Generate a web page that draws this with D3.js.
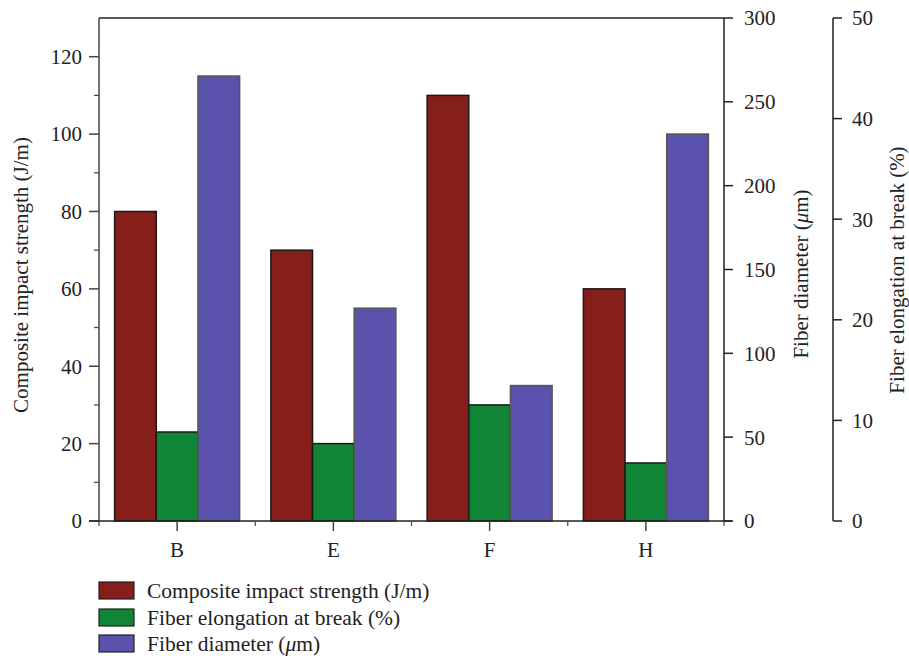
<!DOCTYPE html>
<html>
<head>
<meta charset="utf-8">
<script src="https://cdn.jsdelivr.net/npm/d3@7"></script>
<style>
  body { margin: 0; background: #fff; }
  svg { display: block; }
  text { font-family: "Liberation Serif", "DejaVu Serif", serif; fill: #222; }
</style>
</head>
<body>
<svg id="chart" width="909" height="656"></svg>
<script>
// Fiber samples and measured properties (plotted on the impact-strength scale)
const categories = ["B", "E", "F", "H"];
const seriesNames = ["Composite impact strength (J/m)", "Fiber elongation at break (%)", "Fiber diameter (μm)"];
const impactStrength = [80, 70, 110, 60];
const elongation = [23, 20, 30, 15];
const diameter = [115, 55, 35, 100];
const leftTicks = [0, 20, 40, 60, 80, 100, 120];
const diameterTicks = [0, 50, 100, 150, 200, 250, 300];
const elongationTicks = [0, 10, 20, 30, 40, 50];

const colors = ["#861e19", "#0f8535", "#5a52ad"];
const strokes = ["#1a1a1a", "#1a1a1a", "#555"];
const seriesValues = [impactStrength, elongation, diameter];

const FS = 21;
const svg = d3.select("#chart");
const plotL = 99, plotR = 724, plotT = 18, plotB = 521;

const x = d3.scaleBand().domain(categories).range([plotL, plotR]);
// each group of three bars fills the middle 80% of its band
const xInner = d3.scaleBand().domain(d3.range(3))
  .range([x.bandwidth() * 0.1, x.bandwidth() * 0.9]);

const y = d3.scaleLinear().domain([0, 130]).range([plotB, plotT]);
const yDiam = d3.scaleLinear().domain([0, 300]).range([plotB, plotT]);
const yElong = d3.scaleLinear().domain([0, 50]).range([plotB, plotT]);

// top frame line
svg.append("line").attr("x1", plotL).attr("x2", plotR).attr("y1", plotT).attr("y2", plotT)
  .attr("stroke", "#222").attr("stroke-width", 1.5);

// bars
const groups = svg.append("g").selectAll("g").data(categories).join("g")
  .attr("transform", d => `translate(${x(d)},0)`);
groups.selectAll("rect")
  .data((d, i) => seriesValues.map((vals, s) => ({ s, v: vals[i] })))
  .join("rect")
  .attr("x", d => xInner(d.s))
  .attr("width", xInner.bandwidth())
  .attr("y", d => y(d.v))
  .attr("height", d => y(0) - y(d.v))
  .attr("fill", d => colors[d.s])
  .attr("stroke", d => strokes[d.s])
  .attr("stroke-width", 1.5);

// left axis
const minorLeft = d3.range(10, 130, 20);
const gl = svg.append("g").attr("transform", `translate(${plotL},0)`);
gl.append("line").attr("y1", plotT).attr("y2", plotB).attr("stroke", "#444").attr("stroke-width", 1.5);
gl.selectAll("line.maj").data(leftTicks).join("line").attr("class", "maj")
  .attr("x1", -10).attr("x2", 0).attr("y1", d => y(d)).attr("y2", d => y(d)).attr("stroke", "#444").attr("stroke-width", 1.5);
gl.selectAll("line.min").data(minorLeft).join("line").attr("class", "min")
  .attr("x1", -5).attr("x2", 0).attr("y1", d => y(d)).attr("y2", d => y(d)).attr("stroke", "#444").attr("stroke-width", 1.2);
gl.selectAll("text").data(leftTicks).join("text")
  .attr("x", -17).attr("y", d => y(d)).attr("dy", "0.35em").attr("text-anchor", "end")
  .attr("font-size", FS).text(d => d);

// bottom axis
const gb = svg.append("g");
gb.append("line").attr("x1", plotL - 10).attr("x2", plotR + 8).attr("y1", plotB).attr("y2", plotB)
  .attr("stroke", "#222").attr("stroke-width", 1.5);
const boundaries = d3.range(categories.length + 1).map(i => plotL + i * x.bandwidth());
gb.selectAll("line.b").data(boundaries).join("line").attr("class", "b")
  .attr("x1", d => d).attr("x2", d => d).attr("y1", plotB).attr("y2", plotB + 5)
  .attr("stroke", "#444").attr("stroke-width", 1.2);
gb.selectAll("line.c").data(categories).join("line").attr("class", "c")
  .attr("x1", d => x(d) + x.bandwidth() / 2).attr("x2", d => x(d) + x.bandwidth() / 2)
  .attr("y1", plotB).attr("y2", plotB + 10).attr("stroke", "#444").attr("stroke-width", 1.5);
gb.selectAll("text").data(categories).join("text")
  .attr("x", d => x(d) + x.bandwidth() / 2).attr("y", plotB + 36).attr("text-anchor", "middle")
  .attr("font-size", FS).text(d => d);

// right axis: fiber diameter
const gr = svg.append("g").attr("transform", `translate(${plotR},0)`);
gr.append("line").attr("y1", plotT).attr("y2", plotB).attr("stroke", "#222").attr("stroke-width", 1.5);
gr.selectAll("line.t").data(diameterTicks).join("line").attr("class", "t")
  .attr("x1", 0).attr("x2", 9).attr("y1", d => yDiam(d)).attr("y2", d => yDiam(d)).attr("stroke", "#222").attr("stroke-width", 1.5);
gr.selectAll("text").data(diameterTicks).join("text")
  .attr("x", 20).attr("y", d => yDiam(d)).attr("dy", "0.35em").attr("font-size", FS).text(d => d);

// second right axis: elongation
const ax2 = 833;
const ge = svg.append("g").attr("transform", `translate(${ax2},0)`);
ge.append("line").attr("y1", plotT).attr("y2", plotB).attr("stroke", "#222").attr("stroke-width", 1.5);
ge.selectAll("line.t").data(elongationTicks).join("line").attr("class", "t")
  .attr("x1", 0).attr("x2", 9).attr("y1", d => yElong(d)).attr("y2", d => yElong(d)).attr("stroke", "#222").attr("stroke-width", 1.5);
ge.selectAll("text").data(elongationTicks).join("text")
  .attr("x", 19).attr("y", d => yElong(d)).attr("dy", "0.35em").attr("font-size", FS).text(d => d);

// axis titles
svg.append("text").attr("transform", "translate(28,275) rotate(-90)").attr("text-anchor", "middle")
  .attr("font-size", FS).text(seriesNames[0]);
const t2 = svg.append("text").attr("transform", "translate(808,274) rotate(-90)").attr("text-anchor", "middle")
  .attr("font-size", FS);
t2.append("tspan").text("Fiber diameter (");
t2.append("tspan").attr("font-style", "italic").text("μ");
t2.append("tspan").text("m)");
svg.append("text").attr("transform", "translate(904,270) rotate(-90)").attr("text-anchor", "middle")
  .attr("font-size", FS).text(seriesNames[1]);

// legend
const lg = svg.append("g");
const rowY = [591, 618, 644];
seriesNames.forEach((name, i) => {
  lg.append("rect").attr("x", 99).attr("y", rowY[i] - 9).attr("width", 35).attr("height", 17)
    .attr("fill", colors[i]).attr("stroke", "#222").attr("stroke-width", 1.2);
  const t = lg.append("text").attr("x", 147).attr("y", rowY[i] + 7).attr("font-size", 21.5);
  if (i === 2) {
    t.append("tspan").text("Fiber diameter (");
    t.append("tspan").attr("font-style", "italic").text("μ");
    t.append("tspan").text("m)");
  } else {
    t.text(name);
  }
});
</script>
</body>
</html>
